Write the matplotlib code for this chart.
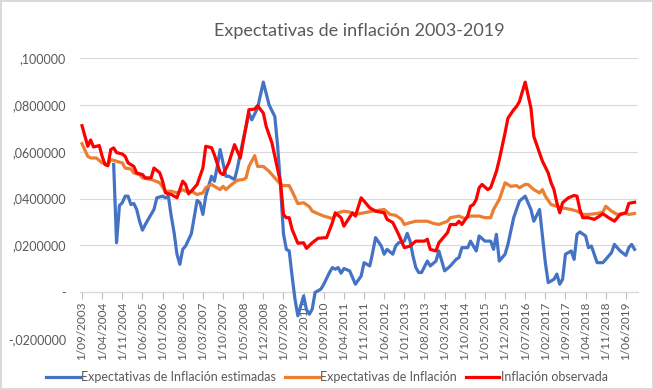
import matplotlib.pyplot as plt

plt.rcParams['font.family'] = ['Lato', 'DejaVu Sans']

# meses desde 1/09/2003 (0 = sep 2003)
tick_labels = ["1/09/2003", "1/04/2004", "1/11/2004", "1/06/2005", "1/01/2006", "1/08/2006",
               "1/03/2007", "1/10/2007", "1/05/2008", "1/12/2008", "1/07/2009", "1/02/2010",
               "1/09/2010", "1/04/2011", "1/11/2011", "1/06/2012", "1/01/2013", "1/08/2013",
               "1/03/2014", "1/10/2014", "1/05/2015", "1/12/2015", "1/07/2016", "1/02/2017",
               "1/09/2017", "1/04/2018", "1/11/2018", "1/06/2019"]
tick_pos = [7 * i for i in range(len(tick_labels))]

# Expectativas de Inflación estimadas
est_m = [11, 12, 13, 14, 15, 16, 17, 18, 19, 20, 21, 22, 23, 25, 26, 28, 29, 30, 31, 32, 33, 34, 35,
         36, 38, 40, 41, 42, 43, 45, 46, 47, 48, 50, 51, 53, 54, 56, 58, 59, 61, 63, 65, 67, 68, 69,
         70, 71, 72, 73, 74, 75, 76, 77, 78, 79, 80, 81, 83, 84, 86, 87, 88, 89, 90, 91, 93, 94, 95,
         97, 98, 100, 101, 102, 104, 105, 106, 108, 109, 110, 112, 113, 114, 115, 116, 117, 118, 120,
         121, 123, 124, 126, 128, 130, 131, 132, 134, 135, 137, 138, 140, 142, 143, 144, 145, 147,
         148, 150, 152, 154, 156, 157, 159, 160, 161, 162, 164, 165, 166, 167, 168, 170, 171, 172,
         173, 175, 176, 177, 179, 181, 182, 184, 185, 187, 189, 190, 191, 192]
est_v = [.0545, .0211, .0370, .0382, .0410, .0410, .0374, .0379, .0353, .0303, .0265, .0289, .0311,
         .0353, .0403, .0410, .0403, .0410, .0325, .0254, .0162, .0119, .0183, .0197, .0250, .0392,
         .0382, .0332, .0410, .0495, .0474, .0537, .0609, .0495, .0495, .0481, .0530, .0651, .0765,
         .0736, .0786, .0897, .0800, .0750, .0620, .0450, .0250, .0183, .0176, .0069, -.0030, -.0101,
         -.0060, -.0016, -.0075, -.0094, -.0072, -.0001, .0013, .0034, .0084, .0105, .0098, .0105,
         .0081, .0101, .0091, .0063, .0034, .0069, .0126, .0112, .0169, .0233, .0197, .0162, .0183,
         .0162, .0197, .0211, .0218, .0251, .0218, .0155, .0105, .0084, .0084, .0133, .0112, .0133,
         .0176, .0091, .0112, .0140, .0148, .0190, .0190, .0218, .0176, .0240, .0218, .0218, .0183,
         .0247, .0133, .0162, .0204, .0318, .0389, .0410, .0353, .0303, .0353, .0240, .0126, .0041,
         .0055, .0077, .0034, .0055, .0162, .0176, .0140, .0247, .0257, .0240, .0190, .0197, .0126,
         .0126, .0140, .0169, .0204, .0176, .0157, .0190, .0204, .0183]

# Expectativas de Inflación
exp_m = [0, 2, 3, 5, 7, 9, 10, 12, 14, 15, 17, 18, 20, 21, 24, 25, 27, 29, 31, 33, 35, 36, 38, 40,
         42, 43, 45, 46, 48, 49, 50, 52, 54, 56, 57, 58, 60, 61, 63, 65, 67, 69, 70, 72, 73, 75, 77,
         79, 80, 82, 84, 86, 87, 89, 91, 93, 95, 98, 101, 105, 107, 109, 111, 112, 114, 116, 118, 120,
         122, 124, 127, 128, 131, 133, 135, 138, 140, 142, 143, 145, 146, 147, 149, 151, 152, 154,
         155, 157, 159, 160, 161, 163, 165, 167, 170, 172, 174, 176, 179, 181, 182, 184, 186, 189,
         190, 192]
exp_v = [.0634, .0580, .0573, .0573, .0552, .0545, .0566, .0559, .0552, .0530, .0526, .0509, .0502,
         .0488, .0481, .0477, .0467, .0431, .0431, .0424, .0438, .0431, .0431, .0417, .0424, .0446,
         .0460, .0452, .0438, .0452, .0438, .0460, .0478, .0481, .0488, .0537, .0583, .0537, .0537,
         .0516, .0488, .0460, .0455, .0455, .0431, .0378, .0382, .0365, .0346, .0335, .0325, .0318,
         .0314, .0339, .0346, .0342, .0332, .0339, .0346, .0353, .0332, .0328, .0311, .0289, .0297,
         .0303, .0303, .0303, .0294, .0289, .0303, .0318, .0325, .0314, .0325, .0325, .0318, .0318,
         .0353, .0396, .0431, .0467, .0452, .0455, .0446, .0460, .0460, .0438, .0424, .0438, .0410,
         .0374, .0367, .0360, .0353, .0346, .0332, .0332, .0336, .0342, .0367, .0346, .0332, .0336,
         .0332, .0336]

# Inflación observada
obs_m = [0, 2, 3, 4, 6, 7, 8, 9, 10, 11, 12, 14, 15, 16, 18, 19, 21, 22, 24, 25, 27, 28, 29, 31,
         33, 35, 36, 37, 38, 40, 42, 43, 45, 46, 48, 49, 51, 53, 55, 57, 58, 60, 61, 63, 64, 66, 67,
         69, 70, 71, 72, 73, 75, 77, 78, 80, 82, 85, 87, 88, 90, 91, 94, 95, 97, 98, 100, 102, 105,
         106, 108, 110, 112, 114, 116, 119, 120, 121, 123, 124, 127, 128, 130, 131, 132, 134, 135,
         136, 137, 138, 139, 141, 142, 144, 145, 146, 147, 148, 150, 151, 152, 154, 156, 157, 159,
         160, 162, 163, 164, 165, 166, 167, 169, 171, 172, 173, 174, 176, 178, 179, 181, 183, 185,
         187, 189, 190, 192]
obs_v = [.0711, .0623, .0650, .0620, .0626, .0580, .0545, .0540, .0609, .0616, .0596, .0590, .0580,
         .0552, .0537, .0509, .0502, .0488, .0488, .0530, .0510, .0474, .0424, .0417, .0403, .0474,
         .0460, .0420, .0431, .0460, .0530, .0623, .0617, .0587, .0510, .0502, .0552, .0630, .0573,
         .0708, .0779, .0782, .0796, .0765, .0708, .0637, .0580, .0467, .0332, .0318, .0318, .0268,
         .0209, .0211, .0187, .0211, .0230, .0233, .0297, .0339, .0318, .0282, .0339, .0325, .0403,
         .0389, .0360, .0346, .0339, .0311, .0297, .0247, .0190, .0197, .0218, .0218, .0226, .0183,
         .0176, .0211, .0254, .0289, .0289, .0303, .0289, .0325, .0367, .0374, .0396, .0446, .0460,
         .0438, .0446, .0516, .0566, .0623, .0680, .0743, .0779, .0793, .0814, .0897, .0786, .0665,
         .0594, .0559, .0509, .0467, .0438, .0382, .0339, .0382, .0403, .0413, .0410, .0353, .0318,
         .0318, .0311, .0318, .0335, .0318, .0303, .0332, .0339, .0379, .0384]

gray_txt = '#595959'

fig = plt.figure(figsize=(6.54, 3.9), dpi=100)
fig.patch.set_edgecolor('#D9D9D9')
fig.patch.set_linewidth(1.5)
ax = fig.add_axes([80 / 654, 51 / 390, 558 / 654, 281 / 390])

ax.plot(est_m, est_v, color='#4472C4', lw=2.3, label='Expectativas de Inflación estimadas', zorder=3)
ax.plot(exp_m, exp_v, color='#ED7D31', lw=2.3, label='Expectativas de Inflación', zorder=4)
ax.plot(obs_m, obs_v, color='#FF0000', lw=2.3, label='Inflación observada', zorder=5)

ax.set_xlim(-0.7, 193.2)
ax.set_ylim(-0.02, 0.10)

yt = [-0.02, 0, 0.02, 0.04, 0.06, 0.08, 0.10]
ax.set_yticks(yt)
ax.set_yticklabels(['-,0200000', '-', ',0200000', ',0400000', ',0600000', ',0800000', ',100000'],
                   color=gray_txt, fontsize=9)
ax.tick_params(axis='y', length=0, pad=10)
ax.grid(axis='y', color='#D9D9D9', lw=0.8, zorder=0)

for s in ['top', 'right', 'left']:
    ax.spines[s].set_visible(False)
ax.spines['bottom'].set_position(('data', 0))
ax.spines['bottom'].set_color('#BFBFBF')
ax.spines['bottom'].set_zorder(1)

ax.set_xticks(tick_pos)
ax.set_xticklabels(tick_labels, rotation=90, color=gray_txt, fontsize=8.5)
ax.tick_params(axis='x', direction='out', length=5, color='#BFBFBF', pad=2)

ax.set_title('Expectativas de inflación 2003-2019', color=gray_txt, fontsize=13, pad=16)

fig.legend(loc='center', bbox_to_anchor=(0.5, 0.033), ncol=3, frameon=False, fontsize=9,
           handlelength=2.7, handletextpad=0.1, columnspacing=0.7, labelcolor=gray_txt)

fig.savefig('out.png', dpi=100)
